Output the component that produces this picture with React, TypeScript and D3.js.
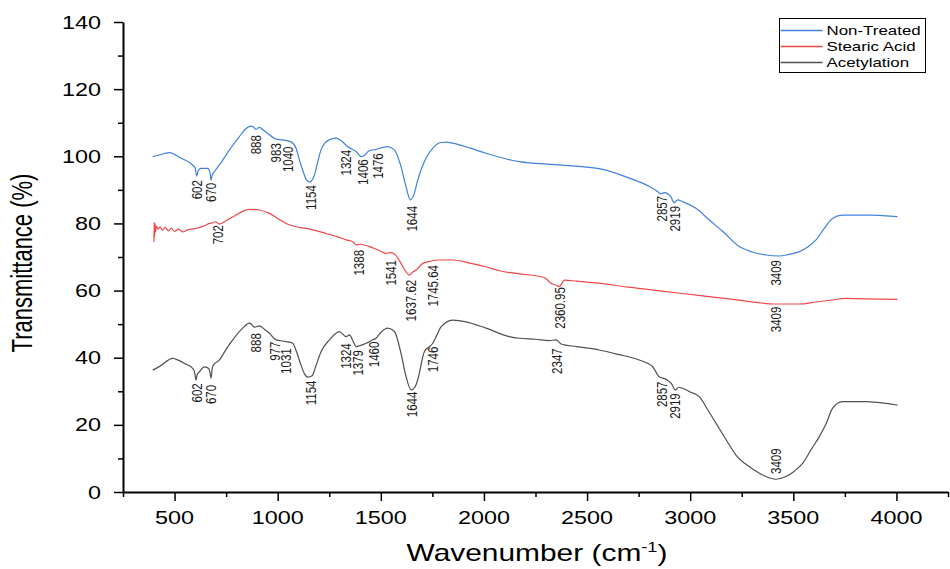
import React, { useEffect, useRef } from "react";
import * as d3 from "d3";

// [wavenumber, transmittance %]
const nonTreated: [number, number][] = [
  [394, 99.9], [420, 100.3], [475, 101.1], [530, 99.5], [587, 97.4], [600, 96.5], [607, 94.1], [615, 95.8],
  [629, 96.4], [661, 96.4], [672, 95], [677, 92.9], [683, 94.5], [693, 95.4], [730, 98.5], [766, 101.9],
  [810, 105.5], [847, 108.3], [871, 109], [885, 108.6], [895, 108], [911, 108.6], [930, 107.8], [952, 106.8],
  [992, 105.1], [1024, 104.9], [1065, 104.3], [1089, 102.4], [1105, 99], [1121, 95.9], [1140, 93], [1154, 92.4],
  [1166, 92.8], [1178, 94.4], [1195, 98.5], [1210, 101.9], [1230, 104], [1251, 104.9], [1283, 105.4], [1307, 104.7],
  [1339, 102.9], [1380, 101.4], [1406, 99.9], [1420, 100.2], [1440, 101.5], [1461, 101.9], [1476, 102], [1493, 102.4],
  [1533, 102.9], [1566, 101.9], [1598, 96.9], [1620, 91.5], [1644, 87], [1660, 88.5], [1679, 92.9], [1719, 99.4],
  [1750, 102.3], [1792, 104.1], [1820, 104.2], [1848, 103.9], [1930, 102.5], [2010, 100.9], [2172, 98.4], [2350, 97.5],
  [2559, 96.3], [2705, 93.5], [2802, 91], [2842, 89.5], [2858, 88.8], [2874, 89.2], [2906, 88], [2922, 86.2],
  [2939, 87], [2963, 86.5], [3028, 84.5], [3093, 81], [3160, 77.5], [3238, 73.1], [3300, 71.5], [3367, 70.6],
  [3432, 70.3], [3480, 70.8], [3529, 71.6], [3570, 73], [3610, 75.1], [3650, 78.5], [3690, 81.5], [3739, 82.5],
  [3884, 82.5], [4005, 82],
];

const stearicAcid: [number, number][] = [
  [400, 74.5], [401, 80.3], [403, 76], [405, 80], [408, 77.5], [412, 79.2], [420, 78.3], [430, 79], [440, 78],
  [455, 78.8], [470, 77.8], [485, 78.5], [500, 77.6], [520, 78.3], [540, 77.5], [560, 78], [580, 78.3], [604, 78.5],
  [640, 79.2], [670, 80], [685, 80.2], [700, 80.5], [717, 79.8], [750, 80.8], [798, 82.5], [830, 83.6], [863, 84.2],
  [911, 84], [960, 83], [1000, 81.5], [1041, 80], [1090, 79], [1138, 78.5], [1190, 77.8], [1235, 77], [1290, 76],
  [1332, 75.1], [1365, 74.5], [1380, 73.6], [1400, 73.8], [1445, 73.1], [1490, 72], [1525, 71.1], [1545, 71.3],
  [1566, 70.9], [1598, 68.1], [1620, 65.8], [1638, 64.6], [1655, 65.5], [1671, 66.1], [1703, 68.1], [1745, 68.8],
  [1784, 69.1], [1848, 69.1], [1930, 68.2], [2010, 67.1], [2075, 65.9], [2172, 65], [2293, 63.9], [2325, 62.2],
  [2350, 61.6], [2365, 61.2], [2390, 63.1], [2450, 62.8], [2559, 62.2], [2700, 61], [2882, 59.7], [3050, 58.5],
  [3205, 57.4], [3330, 56.4], [3415, 56], [3529, 56], [3610, 56.6], [3690, 57.2], [3755, 57.7], [3850, 57.5],
  [4005, 57.4],
];

const acetylation: [number, number][] = [
  [394, 36.3], [430, 37.5], [491, 39.8], [520, 39.2], [548, 38.3], [588, 36.8], [598, 35.5], [604, 33.4], [610, 35],
  [620, 35.8], [645, 37.3], [666, 36.8], [672, 35.5], [677, 33.9], [682, 36.5], [688, 37.8], [717, 39.3], [750, 42.5],
  [782, 45.3], [830, 48.8], [863, 50.3], [875, 49.8], [887, 49.1], [911, 49.5], [935, 48.5], [960, 47.3], [992, 45.3],
  [1041, 44.8], [1073, 44.3], [1090, 42], [1113, 37.8], [1130, 35.2], [1146, 34.2], [1167, 34.6], [1185, 37.5],
  [1210, 41.8], [1251, 45.3], [1299, 47.8], [1332, 46.3], [1348, 46.8], [1365, 45], [1380, 43.3], [1400, 43.6],
  [1429, 44.3], [1460, 45.3], [1477, 45.8], [1500, 47.5], [1533, 48.8], [1566, 47.8], [1598, 41.3], [1620, 35],
  [1647, 30.4], [1665, 31.2], [1679, 33.4], [1711, 41.8], [1752, 44.3], [1770, 46.5], [1792, 49.2], [1848, 51.2],
  [1913, 50.7], [2010, 48.8], [2123, 46.3], [2172, 45.8], [2250, 45.5], [2317, 45.1], [2350, 45.3], [2374, 44.1],
  [2450, 43.3], [2559, 42.3], [2650, 41], [2753, 39.3], [2818, 37.3], [2850, 34.3], [2882, 33.6], [2910, 32.2],
  [2928, 30.4], [2945, 31.2], [2963, 30.9], [3000, 29.8], [3044, 28.4], [3085, 24.5], [3125, 20.5], [3175, 15.5],
  [3222, 11], [3287, 7.5], [3330, 5.8], [3367, 4.6], [3415, 3.8], [3464, 4.6], [3505, 6.2], [3545, 8.5], [3585, 12.5],
  [3626, 16.5], [3660, 20.5], [3690, 24.9], [3739, 26.9], [3852, 26.9], [3950, 26.4], [4005, 25.9],
];

// peak labels: text, and transmittance where the (vertical) label starts
const nonTreatedPeaks: [string, number][] = [
  ["602", 92.9], ["670", 92.1], ["888", 106.3], ["983", 103.9], ["1040", 102.9], ["1154", 91.4], ["1324", 101.9],
  ["1406", 99.1], ["1476", 100.9], ["1644", 85.2], ["2857", 88.2], ["2919", 85.2], ["3409", 69.1],
];
const stearicPeaks: [string, number][] = [
  ["702", 79.5], ["1388", 72.1], ["1541", 69.1], ["1637.62", 63.2], ["1745.64", 67.6], ["2360.95", 61], ["3409", 55.2],
];
const acetylationPeaks: [string, number][] = [
  ["602", 32.4], ["670", 31.9], ["888", 47.3], ["977", 44.8], ["1031", 42.8], ["1154", 33.2], ["1324", 44.3],
  ["1379", 42.3], ["1460", 44.8], ["1644", 29.9], ["1746", 43.3], ["2347", 42.8], ["2857", 32.9], ["2919", 29.4],
  ["3409", 13],
];

const seriesNames = ["Non-Treated", "Stearic Acid", "Acetylation"];
const seriesColors = ["#3f80e0", "#f04848", "#505050"];
const xTicks = [500, 1000, 1500, 2000, 2500, 3000, 3500, 4000];
const yTicks = [0, 20, 40, 60, 80, 100, 120, 140];

const FONT = "'Liberation Sans', Arial, Helvetica, sans-serif";
const SX = 1.3; // the original figure is stretched horizontally

export default function App() {
  const svgRef = useRef<SVGSVGElement>(null);
  const width = 950;
  const height = 569;

  useEffect(() => {
    if (!svgRef.current) return;
    const svg = d3.select(svgRef.current);
    svg.selectAll("*").remove();

    const x = d3.scaleLinear().domain([250, 4250]).range([123, 948]);
    const y = d3.scaleLinear().domain([0, 140]).range([492, 22]);

    const g = svg.append("g");

    // minor ticks
    g.append("g")
      .attr("transform", "translate(0,492)")
      .call(d3.axisBottom(x).tickValues(d3.range(250, 4251, 500)).tickSize(5).tickFormat(() => ""))
      .call((a) => a.select(".domain").remove())
      .selectAll("line").attr("stroke", "#000").attr("stroke-width", 1.5);
    g.append("g")
      .attr("transform", "translate(123,0)")
      .call(d3.axisLeft(y).tickValues(d3.range(10, 140, 20)).tickSize(5).tickFormat(() => ""))
      .call((a) => a.select(".domain").remove())
      .selectAll("line").attr("stroke", "#000").attr("stroke-width", 1.5);

    // major axes
    const xa = g.append("g")
      .attr("transform", "translate(0,492)")
      .call(d3.axisBottom(x).tickValues(xTicks).tickSize(9).tickSizeOuter(0).tickFormat(() => ""));
    xa.select(".domain").attr("stroke", "#000").attr("stroke-width", 2);
    xa.selectAll("line").attr("stroke", "#000").attr("stroke-width", 1.5);
    const ya = g.append("g")
      .attr("transform", "translate(123,0)")
      .call(d3.axisLeft(y).tickValues(yTicks).tickSize(9).tickSizeOuter(0).tickFormat(() => ""));
    ya.select(".domain").attr("stroke", "#000").attr("stroke-width", 2);
    ya.selectAll("line").attr("stroke", "#000").attr("stroke-width", 1.5);

    // tick labels
    g.selectAll(".xl").data(xTicks).enter().append("text")
      .attr("transform", (d) => `translate(${x(d)},524) scale(${SX},1)`)
      .attr("text-anchor", "middle")
      .attr("font-family", FONT).attr("font-size", 18).attr("fill", "#000")
      .text((d) => d);
    g.selectAll(".yl").data(yTicks).enter().append("text")
      .attr("transform", (d) => `translate(101,${y(d) + 6.5}) scale(${SX},1)`)
      .attr("text-anchor", "end")
      .attr("font-family", FONT).attr("font-size", 18).attr("fill", "#000")
      .text((d) => d);

    // axis titles
    const xt = g.append("text")
      .attr("transform", `translate(537,561) scale(${SX},1)`)
      .attr("text-anchor", "middle")
      .attr("font-family", FONT).attr("font-size", 23).attr("fill", "#000");
    xt.append("tspan").text("Wavenumber (cm");
    xt.append("tspan").attr("font-size", 14).attr("dy", -9).text("-1");
    xt.append("tspan").attr("dy", 9).text(")");

    g.append("text")
      .attr("transform", `translate(32,263) scale(${SX},1) rotate(-90)`)
      .attr("text-anchor", "middle")
      .attr("font-family", FONT).attr("font-size", 22).attr("fill", "#000")
      .text("Transmittance (%)");

    // spectra
    const line = d3.line<[number, number]>()
      .x((d) => x(d[0]))
      .y((d) => y(d[1]))
      .curve(d3.curveMonotoneX);
    [nonTreated, stearicAcid, acetylation].forEach((s, i) => {
      g.append("path")
        .datum(s)
        .attr("fill", "none")
        .attr("stroke", seriesColors[i])
        .attr("stroke-width", 1.2)
        .attr("d", line);
    });

    // peak labels
    [nonTreatedPeaks, stearicPeaks, acetylationPeaks].forEach((peaks) => {
      g.selectAll(null).data(peaks).enter().append("text")
        .attr("transform", (d) => `translate(${x(parseFloat(d[0])) + 1.5},${y(d[1])}) scale(${SX},1) rotate(-90)`)
        .attr("text-anchor", "end")
        .attr("dy", "0.35em")
        .attr("font-family", FONT).attr("font-size", 11.5).attr("fill", "#1a1a1a")
        .text((d) => d[0]);
    });

    // legend
    const lg = g.append("g").attr("transform", "translate(779.5,18.5)");
    lg.append("rect").attr("width", 146).attr("height", 54)
      .attr("fill", "#fff").attr("stroke", "#000").attr("stroke-width", 1);
    seriesNames.forEach((name, i) => {
      const cy = 12 + i * 16;
      lg.append("line").attr("x1", 1).attr("x2", 43).attr("y1", cy).attr("y2", cy)
        .attr("stroke", seriesColors[i]).attr("stroke-width", 1.3);
      lg.append("text")
        .attr("transform", `translate(47,${cy + 4.5}) scale(${SX},1)`)
        .attr("font-family", FONT).attr("font-size", 13).attr("fill", "#000")
        .text(name);
    });
  }, []);

  return (
    <div style={{ position: "absolute", left: 0, top: 0 }}>
      <svg ref={svgRef} width={width} height={height} style={{ display: "block", background: "#fff" }} />
    </div>
  );
}
